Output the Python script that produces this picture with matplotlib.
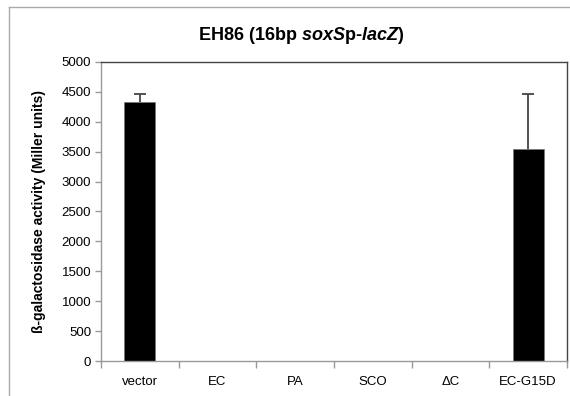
import matplotlib
matplotlib.use("Agg")
import matplotlib.pyplot as plt
import numpy as np
from matplotlib.lines import Line2D

plt.rcParams['font.family'] = ['Liberation Sans', 'DejaVu Sans']
plt.rcParams['mathtext.fontset'] = 'custom'
plt.rcParams['mathtext.it'] = 'Liberation Sans:bold:italic'
plt.rcParams['mathtext.rm'] = 'Liberation Sans:bold'

categories = ["vector", "EC", "PA", "SCO", "ΔC", "EC-G15D"]
values = [4330, 0, 0, 0, 0, 3545]
errors = [135, 0, 0, 0, 0, 920]
yticks = [0, 500, 1000, 1500, 2000, 2500, 3000, 3500, 4000, 4500, 5000]

fig = plt.figure(figsize=(5.70, 3.96), dpi=100)
ax = fig.add_axes([101/570, 1-361/396, (567-101)/570, (361-62)/396])

x = np.arange(len(categories))
ax.bar(x, values, width=0.4, color='black', edgecolor='#777777', linewidth=0.5, zorder=2)
err_x = np.array([xi for xi, e in zip(x, errors) if e > 0])
err_v = np.array([v for v, e in zip(values, errors) if e > 0])
err_e = np.array([e for e in errors if e > 0])
ax.vlines(err_x, err_v, err_v + err_e, color='#444444', lw=1.3, zorder=3)
ax.plot(err_x, err_v + err_e, linestyle='none', marker='_', markersize=9,
        markeredgewidth=1.3, color='#444444', zorder=3)

ax.set_xlim(-0.5, len(categories) - 0.5)
ax.set_ylim(0, 5000)
ax.set_yticks(yticks)
ax.set_yticklabels([str(t) for t in yticks], fontsize=9.5)
ax.set_xticks(x)
ax.set_xticklabels(categories, fontsize=9.5)
ax.set_xticks(np.arange(-0.5, len(categories) + 0.5, 1), minor=True)
ax.tick_params(axis='x', which='major', length=0, pad=11)
ax.tick_params(axis='x', which='minor', length=5, color='#999999', width=1)
ax.tick_params(axis='y', length=4, color='#999999', width=1, pad=3)

for s in ['left', 'bottom']:
    ax.spines[s].set_color('#999999')
    ax.spines[s].set_linewidth(1)
for s in ['top', 'right']:
    ax.spines[s].set_color('#444444')
    ax.spines[s].set_linewidth(1)

ax.set_ylabel('ß-galactosidase activity (Miller units)', fontsize=10, fontweight='bold')
ax.yaxis.set_label_coords((46-101)/466, 0.5)

fig.text(301/570, 1-36/396, r'EH86 (16bp $\mathit{soxS}$p-$\mathit{lacZ}$)',
         fontsize=13, fontweight='bold', ha='center', va='center')

# outer frame
fig.add_artist(Line2D([9/570, 9/570], [0, 1-7/396], transform=fig.transFigure, color='#aaaaaa', lw=1))
fig.add_artist(Line2D([9/570, 1], [1-7/396, 1-7/396], transform=fig.transFigure, color='#aaaaaa', lw=1))

fig.savefig('out.png', dpi=100)
